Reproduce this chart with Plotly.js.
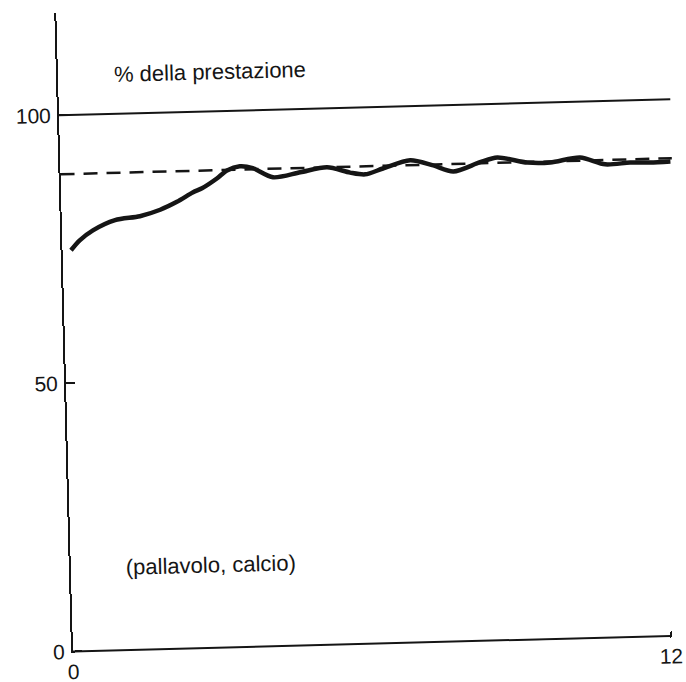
<!DOCTYPE html>
<html>
<head>
<meta charset="utf-8">
<script src="https://cdn.plot.ly/plotly-3.0.1.min.js"></script>
<style>
html, body { margin: 0; padding: 0; background: #ffffff; overflow: hidden; }
#chart { width: 686px; height: 682px; transform: rotate(-1.5deg); transform-origin: 50% 50%; }
</style>
</head>
<body>
<div id="chart"></div>
<script>
// ---- data ----
const timeX = [0.17, 0.35, 0.62, 1.07, 1.57, 1.98, 2.32, 2.65, 2.83, 3.14, 3.34, 3.60, 3.86,
               4.26, 4.81, 5.35, 5.81, 6.11, 6.47, 7.02, 7.46, 7.88, 8.42, 8.77, 9.37, 9.83,
               10.43, 10.93, 11.43, 11.83, 12.24];
const performance = [74.8, 76.6, 78.4, 80.2, 80.8, 81.9, 83.3, 85.0, 85.7, 87.5, 88.9, 89.6, 89.2,
                     87.4, 88.2, 89.0, 87.9, 87.5, 88.5, 89.9, 88.9, 87.6, 89.2, 90.0, 88.9, 88.8,
                     89.6, 88.2, 88.4, 88.3, 88.4];
const refX = [0, 12.27];
const maxLevel = [100, 100];
const plateauLevel = [89, 89];
const xTickVals = [0, 12];
const xTickText = ['0', '12'];
const yTickVals = [0, 50, 100];
const yTickText = ['0', '50', '100'];
const labelTop = '% della prestazione';
const labelSports = '(pallavolo, calcio)';

const ink = '#151515';
const fontFam = '"Liberation Sans", Arial, Helvetica, sans-serif';

const traces = [
  { x: refX, y: maxLevel, mode: 'lines', line: { color: ink, width: 2 }, hoverinfo: 'skip' },
  { x: refX, y: plateauLevel, mode: 'lines', line: { color: ink, width: 2.5, dash: '14px,9px' }, hoverinfo: 'skip' },
  { x: timeX, y: performance, mode: 'lines', line: { color: ink, width: 4.5, shape: 'spline', smoothing: 0.8 }, hoverinfo: 'skip' }
];

const layout = {
  width: 686, height: 682,
  margin: { l: 65, r: 8, t: 6, b: 36 },
  paper_bgcolor: '#ffffff', plot_bgcolor: '#ffffff',
  showlegend: false,
  font: { family: fontFam, size: 21, color: ink },
  xaxis: {
    range: [0, 12.3], showgrid: false, zeroline: false, showline: false,
    tickmode: 'array', tickvals: xTickVals, ticktext: xTickText,
    ticks: 'inside', ticklen: 6, tickwidth: 2, tickcolor: ink,
    ticklabelstandoff: 4, tickfont: { size: 21, color: ink }
  },
  yaxis: {
    range: [-0.3, 119], showgrid: false, zeroline: false,
    showline: true, linecolor: ink, linewidth: 2,
    tickmode: 'array', tickvals: yTickVals, ticktext: yTickText,
    ticks: 'inside', ticklen: 9, tickwidth: 2, tickcolor: ink,
    ticklabelstandoff: 2, tickfont: { size: 21, color: ink }
  },
  shapes: [
    { type: 'line', xref: 'x', yref: 'y', x0: xTickVals[0], x1: xTickVals[xTickVals.length - 1], y0: 0, y1: 0,
      line: { color: ink, width: 2 } }
  ],
  annotations: [
    { text: labelTop, xref: 'x', yref: 'y', x: 3.05, y: 107.3, showarrow: false,
      font: { size: 22, color: ink, family: fontFam } },
    { text: labelSports, xref: 'x', yref: 'y', x: 2.81, y: 15.5, showarrow: false,
      font: { size: 22, color: ink, family: fontFam } }
  ]
};

Plotly.newPlot('chart', traces, layout, { staticPlot: true, displayModeBar: false });
</script>
</body>
</html>
